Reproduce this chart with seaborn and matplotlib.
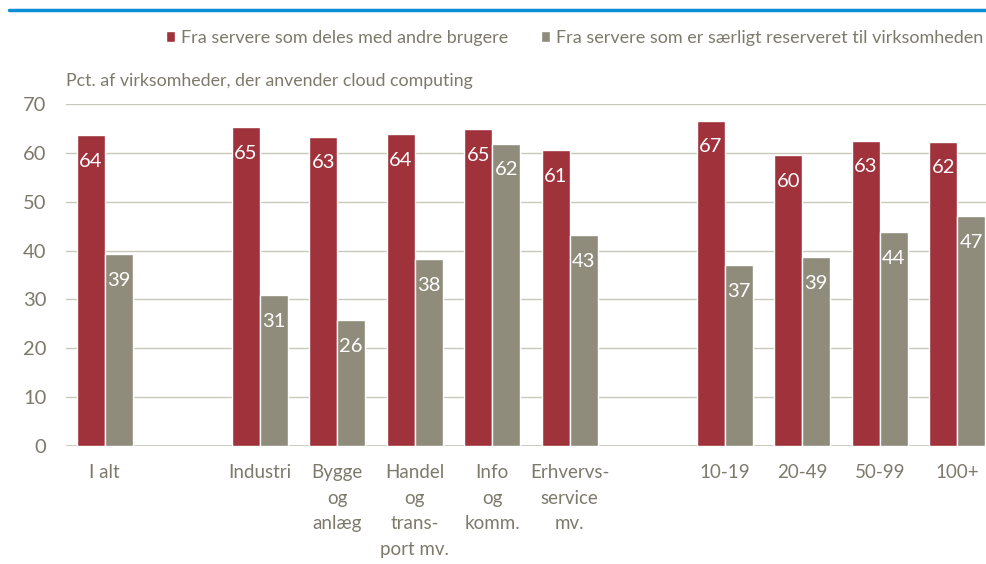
import pandas as pd
import numpy as np
import matplotlib.pyplot as plt
import seaborn as sns
from matplotlib.lines import Line2D
from matplotlib.patches import Patch

# Data (blank slots separate the groups)
categories = ["I alt", " ", "Industri", "Bygge\nog\nanlæg", "Handel\nog\ntrans-\nport mv.",
              "Info\nog\nkomm.", "Erhvervs-\nservice\nmv.", "  ", "10-19", "20-49", "50-99", "100+"]
shared = [63.6, np.nan, 65.2, 63.3, 63.9, 64.8, 60.6, np.nan, 66.6, 59.5, 62.5, 62.3]
reserved = [39.2, np.nan, 30.9, 25.8, 38.2, 61.9, 43.2, np.nan, 37.0, 38.6, 43.7, 47.0]
shared_labels = ["64", "65", "63", "64", "65", "61", "67", "60", "63", "62"]
reserved_labels = ["39", "31", "26", "38", "62", "43", "37", "39", "44", "47"]
series = ["Fra servere som deles med andre brugere",
          "Fra servere som er særligt reserveret til virksomheden"]

red = "#A0323C"
grey = "#8F8C7C"
txt = "#7D7A6C"

df = pd.DataFrame({
    "kategori": categories * 2,
    "serie": [series[0]] * len(categories) + [series[1]] * len(categories),
    "pct": shared + reserved,
})

sns.set_style("white")
plt.rcParams["font.family"] = ["Lato", "DejaVu Sans"]
fs = 13.5

fig = plt.figure(figsize=(9.87, 5.64), dpi=100)
ax = fig.add_axes([66 / 987, 1 - 446 / 564, 930 / 987, 342 / 564])

sns.barplot(data=df.dropna(), x="kategori", y="pct", hue="serie", order=categories,
            hue_order=series, palette=[red, grey], saturation=1, width=0.72,
            edgecolor="white", linewidth=1, legend=False, ax=ax)

for cont, labs in zip(ax.containers, [shared_labels, reserved_labels]):
    ax.bar_label(cont, labels=labs, padding=-25, color="white", fontsize=14.5)

ax.set_ylim(0, 70)
ax.set_xlim(-0.5, len(categories) - 0.5)
ax.set_yticks(range(0, 71, 10))
ax.yaxis.grid(True, color="#C9C7BB", linewidth=1)
ax.set_axisbelow(True)
ax.axhline(0, color="#C9C7BB", linewidth=2, zorder=0)
sns.despine(ax=ax, left=True, bottom=True, top=True, right=True)
ax.set_xlabel("")
ax.set_ylabel("")
ax.tick_params(axis="y", length=0, pad=14, labelsize=14.5, labelcolor=txt)
ax.tick_params(axis="x", length=0, pad=13, labelsize=fs, labelcolor=txt)
for t in ax.get_xticklabels():
    t.set_linespacing(1.62)
    t.set_verticalalignment("top")

ax.text(0, 1.045, "Pct. af virksomheder, der anvender cloud computing",
        transform=ax.transAxes, fontsize=12.8, color=txt, va="bottom", ha="left")

# top blue rule
fig.add_artist(Line2D([9 / 987, 1], [1 - 10 / 564] * 2, color="#0A8FD6", linewidth=2.5))

handles = [Patch(facecolor=red, edgecolor="white"), Patch(facecolor=grey, edgecolor="white")]
fig.legend(handles, series, loc="center left", bbox_to_anchor=(166 / 987, 1 - 38 / 564),
           ncol=2, frameon=False, fontsize=13, labelcolor=txt, handlelength=0.5,
           handleheight=0.5, handletextpad=0.35, columnspacing=1.8, borderpad=0,
           borderaxespad=0)

fig.savefig("out.png", dpi=100)
